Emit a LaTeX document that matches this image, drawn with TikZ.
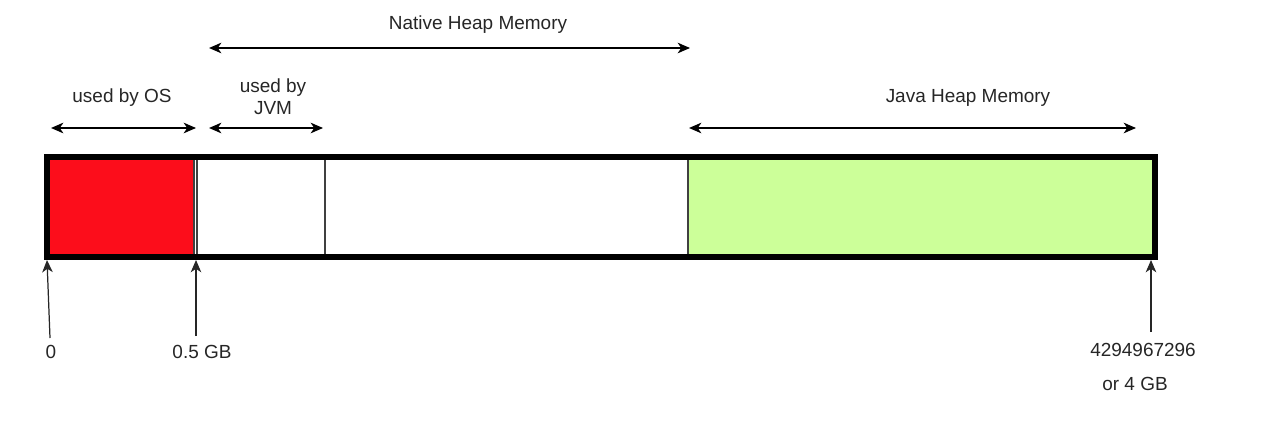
\documentclass[tikz,border=0pt]{standalone}
\usepackage{fontspec}
\setmainfont{Liberation Sans}
\usetikzlibrary{arrows.meta,positioning}
\definecolor{osred}{RGB}{252,13,27}
\definecolor{javagreen}{RGB}{204,255,153}
\tikzset{lbl/.style={font=\fontsize{10.8}{12.5}\selectfont, inner sep=1pt, align=center, text=black!85},
  span/.style={{Stealth[length=7pt,width=6pt,inset=2pt]}-{Stealth[length=7pt,width=6pt,inset=2pt]}, line width=1pt},
  pointer/.style={-{Stealth[length=7pt,width=6pt,inset=2pt]}, line width=0.7pt, black!85}}
\begin{document}
\begin{tikzpicture}[x=0.02cm,y=-0.02cm]
\useasboundingbox (0,0) rectangle (1264,446);

% the memory bar
\fill[osred] (47,157) rectangle (195,257);
\fill[javagreen] (688,157) rectangle (1155,257);
\draw[black!75, line width=0.6pt] (194,157) -- (194,257);
\draw[black!75, line width=0.6pt] (197,157) -- (197,257);
\draw[black!75, line width=0.6pt] (325,157) -- (325,257);
\draw[black!75, line width=0.6pt] (688,157) -- (688,257);
\draw[line width=3pt] (47,157) rectangle (1155,257);

% spans
\coordinate (os1) at (51,128);
\coordinate (os2) at (196,128);
\coordinate (jvm1) at (209,128);
\coordinate (jvm2) at (323,128);
\coordinate (nat1) at (209,48);
\coordinate (nat2) at (690,48);
\coordinate (jav1) at (689,128);
\coordinate (jav2) at (1136,128);

\node[lbl] (oslbl) at (122,98) {used by OS};
\node[lbl] (jvmlbl) at (273,97) {used by\\JVM};
\node[lbl] (natlbl) at (478,25) {Native Heap Memory};
\node[lbl] (javlbl) at (968,98) {Java Heap Memory};

\draw[span] (os1) -- (os2);
\draw[span] (jvm1) -- (jvm2);
\draw[span] (nat1) -- (nat2);
\draw[span] (jav1) -- (jav2);

% addresses
\coordinate (p0) at (47,260);
\coordinate (p1) at (196,260);
\coordinate (p2) at (1151,260);

\node[lbl] (zero) at (51,352) {0};
\node[lbl] (half) at (202,352) {0.5 GB};
\node[lbl] (top) at (1143,350) {4294967296};
\node[lbl] (four) at (1135,384) {or 4 GB};

\coordinate (q0) at (50,338);
\coordinate (q1) at (196,336);
\coordinate (q2) at (1151,332);

\draw[pointer] (q0) -- (p0);
\draw[pointer] (q1) -- (p1);
\draw[pointer] (q2) -- (p2);
\end{tikzpicture}
\end{document}
